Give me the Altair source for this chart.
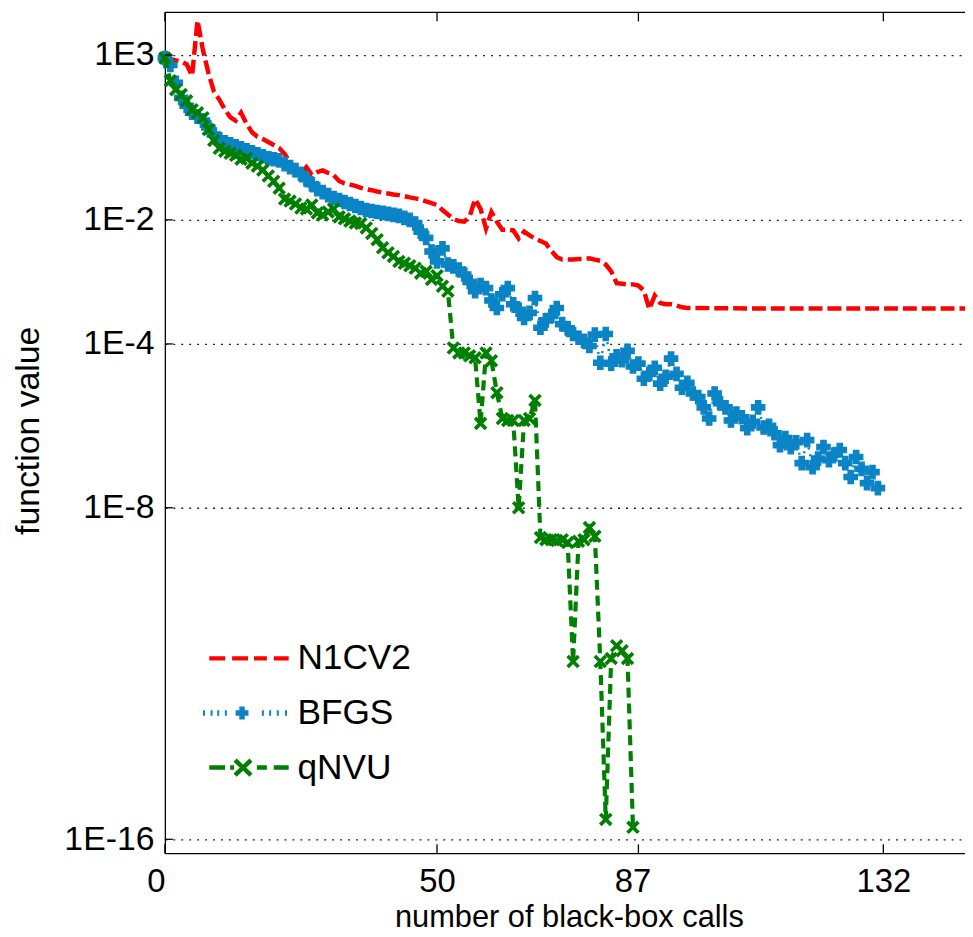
import altair as alt
import pandas as pd

FONT = "Liberation Sans"
SERIES = ["N1CV2", "BFGS", "qNVU"]
SERIES_COLORS = ["#ff0000", "#0b84c6", "#007f00"]

# axis ticks (number of calls, log10 of function value)
x_tick_calls = [0, 50, 87, 132]
y_tick_exponents = [3, -2, -4, -8, -16]

# N1CV2: calls and log10(function value)
n1cv2_calls = list(range(0, 97)) + [110, 125, 147]
n1cv2_log10f = [
    2.90, 2.88, 2.84, 2.80, 2.72, 2.37, 4.05, 3.15, 2.46, 1.90,
    1.65, 1.35, 1.12, 1.01, 1.25, 0.92, 0.66, 0.52, 0.45, 0.36,
    0.27, 0.18, 0.00, -0.25, -0.42, -0.58, -0.40, -0.64, -0.55, -0.50,
    -0.58, -0.64, -0.82, -0.89, -0.93, -0.97, -1.03, -1.07, -1.10, -1.14,
    -1.17, -1.20, -1.23, -1.25, -1.28, -1.32, -1.35, -1.38, -1.44, -1.49,
    -1.55, -1.70, -1.84, -1.97, -2.02, -2.03, -1.90, -1.37, -1.67, -2.14,
    -1.76, -2.03, -2.16, -2.16, -2.17, -2.30, -2.19, -2.25, -2.30, -2.34,
    -2.38, -2.50, -2.60, -2.64, -2.64, -2.64, -2.63, -2.63, -2.62, -2.64,
    -2.66, -2.72, -2.83, -3.02, -3.03, -3.04, -3.04, -3.06, -3.14, -3.44,
    -3.22, -3.34, -3.36, -3.36, -3.38, -3.41, -3.42,
    -3.43, -3.43, -3.43,
]

# BFGS: one value per call, calls 0..131
bfgs_log10f = [
    2.91, 2.70, 2.16, 1.70, 1.46, 1.25, 1.13, 1.01, 0.80, 0.59,
    0.44, 0.35, 0.29, 0.23, 0.17, 0.11, 0.05, -0.01, -0.07, -0.13,
    -0.16, -0.19, -0.31, -0.40, -0.49, -0.61, -0.77, -0.92, -1.07, -1.16,
    -1.25, -1.34, -1.40, -1.46, -1.52, -1.58, -1.64, -1.70, -1.73, -1.76,
    -1.79, -1.82, -1.85, -1.88, -1.94, -2.00, -2.06, -2.19, -2.29, -2.51,
    -2.67, -2.46, -2.72, -2.75, -2.80, -2.88, -3.00, -3.15, -3.05, -3.10,
    -3.30, -3.42, -3.20, -3.10, -3.36, -3.45, -3.58, -3.50, -3.26, -3.74,
    -3.62, -3.55, -3.42, -3.68, -3.75, -3.84, -3.90, -3.95, -4.05, -3.85,
    -4.46, -3.84, -4.48, -4.30, -4.40, -4.17, -4.55, -4.48, -4.85, -4.73,
    -4.58, -4.97, -4.80, -4.36, -4.73, -5.07, -4.95, -5.21, -5.30, -5.55,
    -5.82, -5.21, -5.45, -5.55, -5.87, -5.70, -5.79, -6.06, -5.90, -5.55,
    -6.04, -6.00, -6.18, -6.47, -6.30, -6.52, -6.40, -6.91, -6.35, -7.01,
    -6.80, -6.52, -6.84, -6.70, -6.59, -6.91, -7.25, -6.76, -7.05, -7.40,
    -7.13, -7.52,
]

# qNVU: one value per call, calls 0..86
qnvu_log10f = [
    2.91, 2.22, 1.95, 1.80, 1.61, 1.34, 1.25, 1.10, 0.74, 0.41,
    0.17, 0.08, 0.02, -0.04, -0.16, -0.13, -0.28, -0.37, -0.49, -0.67,
    -0.83, -1.04, -1.37, -1.43, -1.52, -1.64, -1.67, -1.55, -1.79, -1.85,
    -1.76, -1.67, -1.91, -1.97, -2.02, -2.05, -2.06, -2.13, -2.22, -2.32,
    -2.45, -2.53, -2.59, -2.67, -2.70, -2.74, -2.78, -2.86, -2.83, -2.96,
    -2.90, -3.07, -3.15, -4.10, -4.22, -4.22, -4.29, -4.34, -5.94, -4.22,
    -4.41, -5.19, -5.82, -5.87, -5.87, -8.00, -5.87, -5.82, -5.38, -8.72,
    -8.77, -8.77, -8.79, -8.77, -8.84, -11.71, -8.81, -8.77, -8.48, -8.69,
    -11.71, -15.52, -11.64, -11.33, -11.45, -11.64, -15.71,
]

df_n1 = pd.DataFrame({"calls": n1cv2_calls, "log10f": n1cv2_log10f, "series": "N1CV2"})
df_bf = pd.DataFrame({"calls": list(range(len(bfgs_log10f))), "log10f": bfgs_log10f, "series": "BFGS"})
df_qn = pd.DataFrame({"calls": list(range(len(qnvu_log10f))), "log10f": qnvu_log10f, "series": "qNVU"})
df_yt = pd.DataFrame({"log10f": y_tick_exponents})
df_xt = pd.DataFrame({"calls": x_tick_calls})

W, H = 806, 847

x_scale = alt.Scale(domain=[0, 147], nice=False, zero=False)
# the published axis is not evenly spaced between its labelled decades
y_scale = alt.Scale(domain=[4.295, 3, -2, -4, -8, -16, -16.335],
                    range=[0, 43, 209, 334, 499, 833, 847], nice=False, zero=False)
color_scale = alt.Scale(domain=SERIES, range=SERIES_COLORS)

x_axis = alt.Axis(values=x_tick_calls, format="d", ticks=False, grid=False,
                  domainColor="black", domainWidth=1.3, labelFlush=False, labelOverlap=False,
                  labelFont=FONT, labelFontSize=33, labelColor="black", labelPadding=13,
                  labelOffset=alt.expr("datum.value === 0 ? -9 : datum.value === 87 ? -6 : 0"),
                  title="number of black-box calls", titleFont=FONT, titleFontSize=31,
                  titleFontWeight="normal", titleColor="black", titleX=407, titleY=74,
                  titleBaseline="alphabetic", titleAlign="center")
y_axis = alt.Axis(values=y_tick_exponents, labelExpr="'1E' + datum.value", ticks=False,
                  grid=True, gridDash=[2, 6], gridColor="#222222", gridWidth=1.3,
                  domainColor="black", domainWidth=1.3, labelOverlap=False,
                  labelFont=FONT, labelFontSize=34, labelColor="black", labelPadding=11,
                  title="function value", titleFont=FONT, titleFontSize=34,
                  titleFontWeight="normal", titleColor="black", titleX=-137, titleY=421,
                  titleAngle=270, titleBaseline="middle", titleAlign="center")

P_N1 = "M-4,0H-2.4M-1.7,0H-0.1M0.5,0H1.8M2.5,0H4"
P_BF = ("M-4.63,0h0.2M-3.87,0h0.2M-3.2,0h0.2M-2.43,0h0.2M1.3,0h0.2M2.03,0h0.2"
        "M2.8,0h0.2M3.63,0h0.2M-1.35,0H-0.05M-0.7,-0.65V0.65")
P_QN = "M-4,0H-2.4M-1.9,0H-1.5M0.8,0H1.8M2.5,0H4M-1.4,-0.75L0.2,0.75M-1.4,0.75L0.2,-0.75"

shape_expr = ("datum.value === 'N1CV2' ? '" + P_N1 + "' : datum.value === 'BFGS' ? '"
              + P_BF + "' : '" + P_QN + "'")
width_expr = "datum.value === 'BFGS' ? 5.5 : 4.5"

legend = alt.Legend(
    title=None, orient="none", legendX=67, legendY=633, padding=0,
    symbolSize=400, symbolType=alt.expr(shape_expr),
    symbolStrokeWidth=alt.expr(width_expr), symbolOpacity=1,
    labelFont=FONT, labelFontSize=35.5, labelColor="black",
    labelOffset=31, rowPadding=18,
)

X = alt.X("calls:Q", scale=x_scale, axis=x_axis)
Y = alt.Y("log10f:Q", scale=y_scale, axis=y_axis)
C = alt.Color("series:N", scale=color_scale, legend=legend)

red_line = alt.Chart(df_n1).mark_line(clip=True).encode(
    x=X, y=Y, color=C, strokeDash=alt.value([14, 5]), strokeWidth=alt.value(4.5))
blue_line = alt.Chart(df_bf).mark_line().encode(
    x=X, y=Y, color=C, strokeDash=alt.value([2, 5]), strokeWidth=alt.value(2.5))
blue_pts = alt.Chart(df_bf).mark_point(shape="cross", filled=True, size=180).encode(
    x=X, y=Y, color=C, opacity=alt.value(1), stroke=alt.value(SERIES_COLORS[1]),
    strokeWidth=alt.value(1.3))
green_line = alt.Chart(df_qn).mark_line().encode(
    x=X, y=Y, color=C, strokeDash=alt.value([10, 6]), strokeWidth=alt.value(4.2))
green_pts = alt.Chart(df_qn).mark_point(shape="M-1,-1L1,1M-1,1L1,-1", filled=False, size=121).encode(
    x=X, y=Y, color=C, opacity=alt.value(1), strokeWidth=alt.value(3.7))

y_ticks = alt.Chart(df_yt).mark_rule().encode(
    y=Y, x=alt.value(0), x2=alt.value(8), color=alt.value("black"), strokeWidth=alt.value(1.3))
x_ticks_bottom = alt.Chart(df_xt).mark_rule().encode(
    x=X, y=alt.value(H), y2=alt.value(H - 9), color=alt.value("black"), strokeWidth=alt.value(1.3))
x_ticks_top = alt.Chart(df_xt).mark_rule().encode(
    x=X, y=alt.value(0), y2=alt.value(9), color=alt.value("black"), strokeWidth=alt.value(1.3))
top_border = alt.Chart(pd.DataFrame({"calls": [0]})).mark_rule().encode(
    x=alt.value(0), x2=alt.value(W), y=alt.value(0), color=alt.value("black"),
    strokeWidth=alt.value(1.3))

chart = alt.layer(
    red_line, blue_line, blue_pts, green_line, green_pts,
    y_ticks, x_ticks_bottom, x_ticks_top, top_border,
).properties(
    width=W, height=H,
    autosize=alt.AutoSizeParams(type="none"),
    padding={"left": 158, "top": 1, "right": 0, "bottom": 80},
    background="white",
).configure_view(stroke=None)

chart.save("out.html", embed_options={"renderer": "svg", "actions": False})
